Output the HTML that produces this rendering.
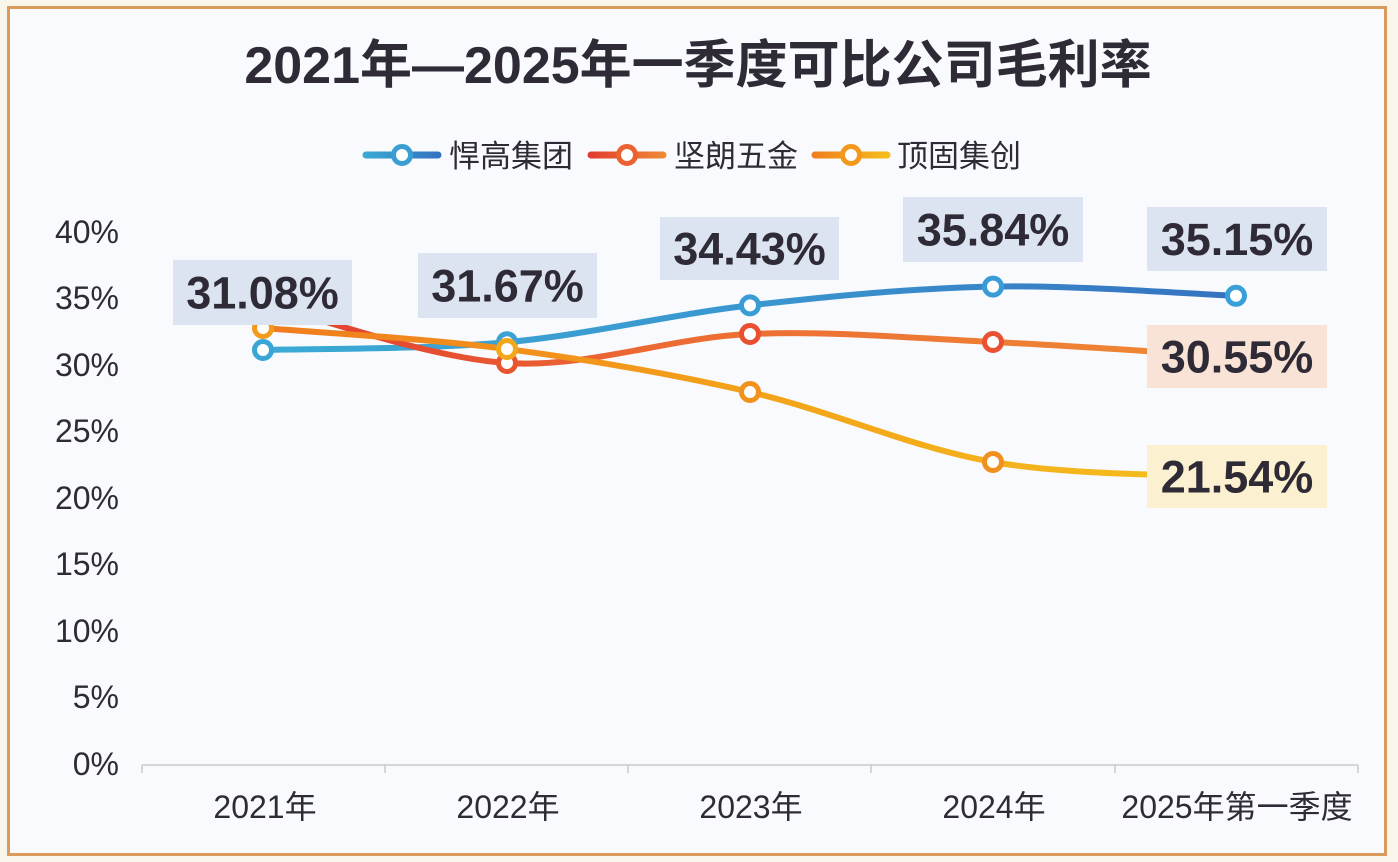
<!DOCTYPE html>
<html>
<head>
<meta charset="utf-8">
<style>
  html, body { margin:0; padding:0; }
  body { width:1398px; height:862px; background:#fbf6ec; overflow:hidden; }
  svg { display:block; }
  text { font-family: "Liberation Sans", "Noto Sans CJK SC", sans-serif; fill:#2f2b36; }
</style>
</head>
<body>
<svg width="1398" height="862" viewBox="0 0 1398 862" xmlns="http://www.w3.org/2000/svg">
  <defs>
    <linearGradient id="gBlue" gradientUnits="userSpaceOnUse" x1="263" y1="0" x2="1236" y2="0">
      <stop offset="0" stop-color="#3aaad4"/>
      <stop offset="0.5" stop-color="#3a96cf"/>
      <stop offset="1" stop-color="#3572c0"/>
    </linearGradient>
    <linearGradient id="gOrange" gradientUnits="userSpaceOnUse" x1="263" y1="0" x2="1236" y2="0">
      <stop offset="0" stop-color="#e23a30"/>
      <stop offset="0.4" stop-color="#ec6a33"/>
      <stop offset="1" stop-color="#ef8a35"/>
    </linearGradient>
    <linearGradient id="gYellow" gradientUnits="userSpaceOnUse" x1="263" y1="0" x2="1236" y2="0">
      <stop offset="0" stop-color="#f07c1e"/>
      <stop offset="0.5" stop-color="#f3a21a"/>
      <stop offset="1" stop-color="#f5bf1c"/>
    </linearGradient>
    <linearGradient id="lgBlue" gradientUnits="userSpaceOnUse" x1="363" y1="0" x2="440" y2="0">
      <stop offset="0" stop-color="#3aaad4"/><stop offset="1" stop-color="#3572c0"/>
    </linearGradient>
    <linearGradient id="lgOrange" gradientUnits="userSpaceOnUse" x1="588" y1="0" x2="665" y2="0">
      <stop offset="0" stop-color="#e23a30"/><stop offset="1" stop-color="#ef8a35"/>
    </linearGradient>
    <linearGradient id="lgYellow" gradientUnits="userSpaceOnUse" x1="812" y1="0" x2="890" y2="0">
      <stop offset="0" stop-color="#f07c1e"/><stop offset="1" stop-color="#f5bf1c"/>
    </linearGradient>
  </defs>

  <!-- frame -->
  <rect x="8.5" y="7.5" width="1377" height="847" fill="#f8fafd" stroke="#d99a5c" stroke-width="3"/>

  <!-- title -->
  <text x="698" y="83" font-size="52" font-weight="bold" text-anchor="middle">2021年—2025年一季度可比公司毛利率</text>

  <!-- legend -->
  <g stroke-linecap="round">
    <line x1="366" y1="155" x2="438" y2="155" stroke="url(#lgBlue)" stroke-width="7"/>
    <circle cx="402" cy="155" r="8.5" fill="#ffffff" stroke="#3a9ed2" stroke-width="5"/>
    <line x1="591" y1="155" x2="663" y2="155" stroke="url(#lgOrange)" stroke-width="7"/>
    <circle cx="627" cy="155" r="8.5" fill="#ffffff" stroke="#ea6231" stroke-width="5"/>
    <line x1="815" y1="155" x2="887" y2="155" stroke="url(#lgYellow)" stroke-width="7"/>
    <circle cx="851" cy="155" r="8.5" fill="#ffffff" stroke="#f2981b" stroke-width="5"/>
  </g>
  <text x="449" y="167" font-size="31">悍高集团</text>
  <text x="674" y="167" font-size="31">坚朗五金</text>
  <text x="897" y="167" font-size="31">顶固集创</text>

  <!-- y axis labels -->
  <g font-size="32" text-anchor="end">
    <text x="119" y="243">40%</text>
    <text x="119" y="309">35%</text>
    <text x="119" y="376">30%</text>
    <text x="119" y="442">25%</text>
    <text x="119" y="509">20%</text>
    <text x="119" y="575">15%</text>
    <text x="119" y="642">10%</text>
    <text x="119" y="708">5%</text>
    <text x="119" y="775">0%</text>
  </g>

  <!-- x axis -->
  <g stroke="#c9cacf" stroke-width="1.5">
    <line x1="142" y1="765" x2="1358" y2="765"/>
    <line x1="142" y1="765" x2="142" y2="773"/>
    <line x1="385" y1="765" x2="385" y2="773"/>
    <line x1="628" y1="765" x2="628" y2="773"/>
    <line x1="871" y1="765" x2="871" y2="773"/>
    <line x1="1115" y1="765" x2="1115" y2="773"/>
    <line x1="1358" y1="765" x2="1358" y2="773"/>
  </g>
  <g font-size="32" text-anchor="middle">
    <text x="265" y="818">2021年</text>
    <text x="508" y="818">2022年</text>
    <text x="751" y="818">2023年</text>
    <text x="994" y="818">2024年</text>
    <text x="1237" y="818">2025年第一季度</text>
  </g>

  <!-- series: blue -->
  <path d="M263,350 C303.7,348.7 425.8,349.6 507,342.2 C588.2,334.8 669,314.7 750,305.4 C831,296.1 912,288.2 993,286.6 C1074,285 1195.5,294.3 1236,295.8"
        fill="none" stroke="url(#gBlue)" stroke-width="6" stroke-linecap="round"/>
  <!-- series: orange (坚朗) -->
  <path d="M263,303 C303.7,313 425.8,357.8 507,363 C588.2,368.2 669,337.5 750,334 C831,330.5 912,338.2 993,342 C1074,345.8 1195.5,354.5 1236,357"
        fill="none" stroke="url(#gOrange)" stroke-width="6" stroke-linecap="round"/>
  <!-- series: yellow (顶固) -->
  <path d="M263,328 C303.7,331.5 425.8,338.3 507,349 C588.2,359.7 669,373.2 750,392 C831,410.8 912,447.8 993,462 C1074,476.2 1195.5,474.5 1236,477"
        fill="none" stroke="url(#gYellow)" stroke-width="6" stroke-linecap="round"/>

  <!-- markers -->
  <g fill="#ffffff" stroke-width="5">
    <circle cx="263" cy="350" r="8.5" stroke="#3aa6d6"/>
    <circle cx="507" cy="342.2" r="8.5" stroke="#3aa2d4"/>
    <circle cx="750" cy="305.4" r="8.5" stroke="#3a9cd4"/>
    <circle cx="993" cy="286.6" r="8.5" stroke="#3a9cd6"/>
    <circle cx="1236" cy="295.8" r="8.5" stroke="#3a9fd8"/>

    <circle cx="263" cy="303" r="8.5" stroke="#e44a32"/>
    <circle cx="507" cy="363" r="8.5" stroke="#e8552f"/>
    <circle cx="750" cy="334" r="8.5" stroke="#e8502f"/>
    <circle cx="993" cy="342" r="8.5" stroke="#e85233"/>

    <circle cx="263" cy="328" r="8.5" stroke="#f29a1c"/>
    <circle cx="507" cy="349" r="8.5" stroke="#f3a81c"/>
    <circle cx="750" cy="392" r="8.5" stroke="#f0921c"/>
    <circle cx="993" cy="462" r="8.5" stroke="#f0901e"/>
  </g>

  <!-- data labels -->
  <g>
    <rect x="173" y="260" width="179" height="65" fill="#dde4f1"/>
    <rect x="418" y="253" width="179" height="65" fill="#dde4f1"/>
    <rect x="660" y="217" width="179" height="63" fill="#dde4f1"/>
    <rect x="903" y="197" width="180" height="65" fill="#dde4f1"/>
    <rect x="1147" y="207" width="180" height="64" fill="#dde4f1"/>
    <rect x="1147" y="325" width="180" height="63" fill="#f8e3d6"/>
    <rect x="1147" y="445" width="180" height="63" fill="#fbf0cf"/>
  </g>
  <g font-size="45" font-weight="bold" text-anchor="middle">
    <text x="262.5" y="308.5">31.08%</text>
    <text x="507.5" y="301.5">31.67%</text>
    <text x="749.5" y="264.5">34.43%</text>
    <text x="993" y="245.5">35.84%</text>
    <text x="1237" y="255">35.15%</text>
    <text x="1237" y="372.5">30.55%</text>
    <text x="1237" y="492.5">21.54%</text>
  </g>
</svg>
</body>
</html>
